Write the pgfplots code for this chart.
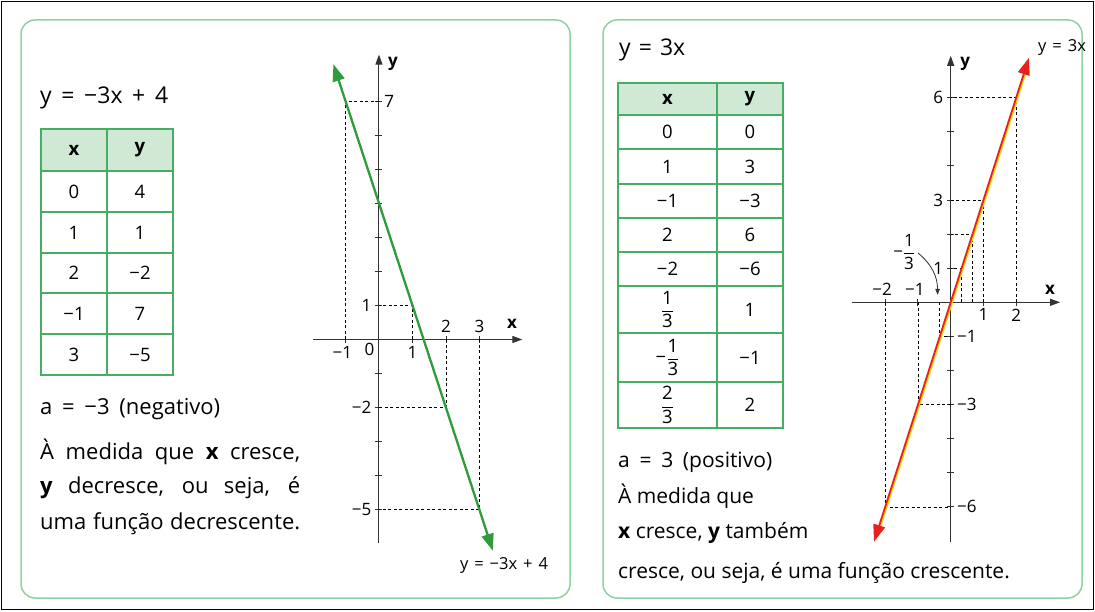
\documentclass[border=0pt]{standalone}
\usepackage{fontspec}
\setmainfont{Open Sans}
\usepackage{pgfplots}
\pgfplotsset{compat=1.18}
\usetikzlibrary{arrows.meta}
\definecolor{pgreen}{HTML}{2E9B3C}
\definecolor{tgreen}{HTML}{45AE62}
\definecolor{hgreen}{HTML}{CFE9D4}
\definecolor{bgreen}{HTML}{8FD1A2}
\definecolor{lred}{HTML}{E8201E}
\definecolor{lyel}{HTML}{FFD000}
\definecolor{axgray}{HTML}{333333}
\newcommand{\fr}[2]{$\displaystyle\frac{\mbox{#1}}{\mbox{#2}}$}
\newcommand{\fs}{\fontsize{22}{25}\selectfont}
\newcommand{\fh}{\fontsize{23}{26}\selectfont}
\newcommand{\fsr}{\fontsize{21}{24}\selectfont}
\newcommand{\ft}{\fontsize{18.5}{22}\selectfont}
\newcommand{\fl}{\fontsize{17}{20}\selectfont}
\newcommand{\fm}{\fontsize{16.5}{19}\selectfont}
\pgfplotsset{
  myax/.style={
    scale only axis, clip=false,
    axis lines=middle,
    axis line style={line width=1pt, color=axgray},
    x axis line style={-{Triangle[length=10pt,width=7pt]}},
    y axis line style={-{Triangle[length=10pt,width=7pt]}},
    xticklabels={}, yticklabels={},
    major tick length=7pt, tick align=center,
    tick style={line width=0.9pt, color=axgray},
    xlabel={}, ylabel={},
  },
  dsh/.style={black, line width=0.8pt, dash pattern=on 3pt off 2.5pt, forget plot},
}
\begin{document}
\begin{tikzpicture}[x=1pt,y=1pt]
\path[use as bounding box] (0,0) rectangle (1095,611);
\fill[white] (0,0) rectangle (1095,611);
\begin{scope}[shift={(0,611)}, y=-1pt]
\draw[line width=1.5pt] (1.5,1.5) rectangle (1093.5,609.5);
\draw[bgreen, line width=1.5pt, rounded corners=14pt] (21,20) rectangle (570,598);
\draw[bgreen, line width=1.5pt, rounded corners=14pt] (603,20) rectangle (1082,598);

% ---------- left panel text ----------
\node[anchor=west, font=\fh, inner sep=0pt] at (40,98) {\makebox[128pt][s]{y = −3x + 4}};
\fill[hgreen] (41,129) rectangle (173,171);
\draw[tgreen, line width=1.2pt] (41,129) rectangle (173,375);
\draw[tgreen, line width=1.2pt] (107,129) -- (107,375);
\foreach \yy in {171,212,253,293,334} \draw[tgreen, line width=1.2pt] (41,\yy) -- (173,\yy);
\begin{scope}[every node/.style={font=\ft}]
\node at (74,150) {\textbf{x}}; \node at (140,150) {\textbf{y}};
\node at (74,191.5) {0}; \node at (140,191.5) {4};
\node at (74,232.5) {1}; \node at (140,232.5) {1};
\node at (74,273) {2}; \node at (140,273) {−2};
\node at (74,313.5) {−1}; \node at (140,313.5) {7};
\node at (74,354.5) {3}; \node at (140,354.5) {−5};
\end{scope}
\begin{scope}[every node/.style={font=\fs, anchor=west, inner sep=0pt}]
\node at (40,409) {\makebox[180pt][s]{a = −3 (negativo)}};
\node at (40,452) {\makebox[260pt][s]{À medida que \textbf{x} cresce,}};
\node at (40,488) {\makebox[260pt][s]{\textbf{y} decresce, ou seja, é}};
\node at (40,524) {\makebox[260pt][s]{uma função decrescente.}};
\end{scope}
\node[font=\fm] at (504,566) {\makebox[88pt][s]{y = −3x + 4}};

% ---------- right panel text ----------
\node[anchor=west, font=\fh, inner sep=0pt] at (619,50) {\makebox[66pt][s]{y = 3x}};
\fill[hgreen] (618,83) rectangle (783,115);
\draw[tgreen, line width=1.2pt] (618,83) rectangle (783,428);
\draw[tgreen, line width=1.2pt] (717,83) -- (717,428);
\foreach \yy in {115,149,184,218,252,286,333,382} \draw[tgreen, line width=1.2pt] (618,\yy) -- (783,\yy);
\begin{scope}[every node/.style={font=\ft}]
\node at (667.5,99) {\textbf{x}}; \node at (750,99) {\textbf{y}};
\node at (667.5,132) {0}; \node at (750,132) {0};
\node at (667.5,166.5) {1}; \node at (750,166.5) {3};
\node at (667.5,201) {−1}; \node at (750,201) {−3};
\node at (667.5,235) {2}; \node at (750,235) {6};
\node at (667.5,269) {−2}; \node at (750,269) {−6};
\node at (667.5,309.5) {\fr{1}{3}}; \node at (750,309.5) {1};
\node at (667.5,357.5) {−\fr{1}{3}}; \node at (750,357.5) {−1};
\node at (667.5,405) {\fr{2}{3}}; \node at (750,405) {2};
\end{scope}
\begin{scope}[every node/.style={font=\fsr, anchor=west, inner sep=0pt}]
\node at (618,462) {\makebox[154pt][s]{a = 3 (positivo)}};
\node at (618,496) {À medida que};
\node at (618,533) {\textbf{x} cresce, \textbf{y} também};
\node at (618,573) {cresce, ou seja, é uma função crescente.};
\end{scope}
\node[font=\fm] at (1062,48) {\makebox[48pt][s]{y = 3x}};
\end{scope}

% ---------- left axis ----------
\begin{axis}[myax, at={(313.3pt,68.4pt)}, anchor=south west,
  width=209.04pt, height=488pt,
  xmin=-1.96, xmax=4.28, ymin=-5.96, ymax=8.36,
  xtick={-1,1,2,3}, ytick={-5,-4,-3,-2,-1,1,2,3,4,5,6,7}]
\addplot[dsh] coordinates {(-1,0) (-1,7) (0,7)};
\addplot[dsh] coordinates {(1,0) (1,1) (0,1)};
\addplot[dsh] coordinates {(2,0) (2,-2) (0,-2)};
\addplot[dsh] coordinates {(3,0) (3,-5) (0,-5)};
\addplot[pgreen, line width=2.3pt, {Triangle[length=17pt,width=12pt]}-{Triangle[length=17pt,width=12pt]}] coordinates {(-1.36,8.08) (3.40,-6.20)};
\begin{scope}[every node/.style={font=\fl}]
\node[anchor=west, xshift=2pt] at (axis cs:0,7) {7};
\node[anchor=east, xshift=-4pt] at (axis cs:0,1) {1};
\node[anchor=east, xshift=-4pt] at (axis cs:0,-2) {−2};
\node[anchor=east, xshift=-4pt] at (axis cs:0,-5) {−5};
\node[anchor=north, yshift=-3pt, xshift=-3pt] at (axis cs:-1,0) {−1};
\node[anchor=north east, xshift=-1pt, yshift=0pt] at (axis cs:0,0) {0};
\node[anchor=north, yshift=-3pt] at (axis cs:1,0) {1};
\node[anchor=south, yshift=3pt] at (axis cs:2,0) {2};
\node[anchor=south, yshift=3pt] at (axis cs:3,0) {3};
\node at (axis cs:3.97,0.45) {\textbf{x}};
\node at (axis cs:0.42,8.1) {\textbf{y}};
\end{scope}
\end{axis}

% ---------- right axis ----------
\begin{axis}[myax, at={(852.1pt,69.3pt)}, anchor=south west,
  width=207.96pt, height=485.9pt,
  xmin=-3.01, xmax=3.34, ymin=-7.02, ymax=7.23,
  xtick={-2,-1,1,2}, ytick={-6,-5,-4,-3,-2,-1,1,2,3,4,5,6}]
\addplot[dsh] coordinates {(2,0) (2,6) (0,6)};
\addplot[dsh] coordinates {(1,0) (1,3) (0,3)};
\addplot[dsh] coordinates {(0.6667,0) (0.6667,2) (0,2)};
\addplot[dsh] coordinates {(0.3333,0) (0.3333,1) (0,1)};
\addplot[dsh] coordinates {(-0.3333,0) (-0.3333,-1) (0,-1)};
\addplot[dsh] coordinates {(-1,0) (-1,-3) (0,-3)};
\addplot[dsh] coordinates {(-2,0) (-2,-6) (0,-6)};
\addplot[lyel, line width=2pt, xshift=1.3pt, shorten >=14pt, shorten <=14pt] coordinates {(-2.34,-7.02) (2.39,7.17)};
\addplot[lred, line width=1.8pt, {Triangle[length=17pt,width=12pt]}-{Triangle[length=17pt,width=12pt]}] coordinates {(-2.34,-7.02) (2.39,7.17)};
\begin{scope}[every node/.style={font=\fl}]
\node[anchor=east, xshift=-4pt] at (axis cs:0,6) {6};
\node[anchor=east, xshift=-4pt] at (axis cs:0,3) {3};
\node[anchor=east, xshift=-4pt] at (axis cs:0,1) {1};
\node[anchor=west, xshift=3pt] at (axis cs:0,-1) {−1};
\node[anchor=west, xshift=3pt] at (axis cs:0,-3) {−3};
\node[anchor=west, xshift=3pt] at (axis cs:0,-6) {−6};
\node[anchor=south, yshift=3pt, xshift=-3pt] at (axis cs:-2,0) {−2};
\node[anchor=south, yshift=3pt, xshift=-3pt] at (axis cs:-1,0) {−1};
\node[anchor=north, yshift=-3pt] at (axis cs:1,0) {1};
\node[anchor=north, yshift=-3pt] at (axis cs:2,0) {2};
\node at (axis cs:3.03,0.36) {\textbf{x}};
\node at (axis cs:0.44,7.0) {\textbf{y}};
\node at (axis cs:-1.42,1.48) {−\fr{1}{3}};
\end{scope}
\draw[axgray, line width=0.8pt, -{Triangle[length=6pt,width=4.5pt]}] (axis cs:-1.0,1.45) to[bend left=25] (axis cs:-0.4,0.22);
\end{axis}
\end{tikzpicture}
\end{document}
